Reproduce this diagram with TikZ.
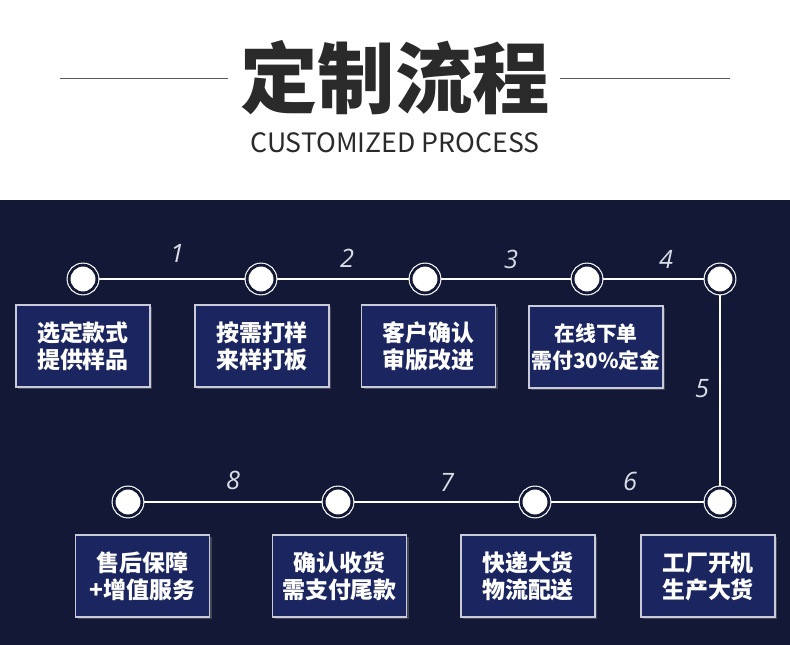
\documentclass[tikz,border=0pt]{standalone}
\usepackage{fontspec}
\newfontfamily\cjk{Noto Sans CJK SC}
\newfontfamily\numfont{Open Sans}
\usepackage{xcolor}
\usepackage{tikz}
\usetikzlibrary{backgrounds, shadows}

\definecolor{navybg}{HTML}{131836}
\definecolor{boxblue}{HTML}{1B2560}
\definecolor{boxline}{HTML}{C9CCD8}
\definecolor{titlegray}{HTML}{2A2A2A}
\definecolor{rulegray}{HTML}{5A5A5A}
\definecolor{numgray}{HTML}{DADCE6}

\tikzset{
    dot/.style={circle, inner sep=0, minimum size=20.85pt, fill=white, draw=white,
        line width=0.85pt, double=navybg, double distance=2.1pt},
    procbox/.style={draw=boxline, line width=0.9pt, fill=boxblue, text=white,
        minimum width=100.5pt, minimum height=61.5pt, inner sep=0, align=center,
        font=\cjk\bfseries\fontsize{17.2}{20.2}\selectfont,
        drop shadow={opacity=0.45, shadow xshift=1.5pt, shadow yshift=-1.5pt}},
    numlabel/.style={text=numgray, font=\numfont\itshape\fontsize{19}{19}\selectfont},
    pathline/.style={white, line width=1.5pt}
}

\begin{document}
\begin{tikzpicture}[x=0.75pt, y=-0.75pt]
        \useasboundingbox (0,0) rectangle (790,645);
        % 标题
        \node[text=titlegray, font=\cjk\bfseries\fontsize{58}{58}\selectfont] (title) at (395,78) {定制流程};
        \node[text=titlegray, font=\cjk\fontsize{20}{20}\selectfont] (subtitle) at (395,143) {CUSTOMIZED PROCESS};
        \draw[rulegray, line width=0.75pt] (60,79) -- (228,79);
        \draw[rulegray, line width=0.75pt] (560,79) -- (730,79);

        % 流程节点
        \node[dot] (d1) at (83,279) {};
        \node[dot] (d2) at (261,279) {};
        \node[dot] (d3) at (425,279) {};
        \node[dot] (d4) at (587,279) {};
        \node[dot] (d5) at (720,279) {};
        \node[dot] (d6) at (720,502) {};
        \node[dot] (d7) at (535,502) {};
        \node[dot] (d8) at (338,502) {};
        \node[dot] (d9) at (128,502) {};

        % 连线 (背景层)
        \begin{scope}[on background layer]
            \fill[navybg] (0,200) rectangle (790,645);
            \draw[pathline] (d1.center) -- (d2.center) -- (d3.center) -- (d4.center) -- (d5.center)
                -- (d6.center) -- (d7.center) -- (d8.center) -- (d9.center);
        \end{scope}

        % 序号
        \node[numlabel] (n1) at (177,253) {1};
        \node[numlabel] (n2) at (347,258) {2};
        \node[numlabel] (n3) at (511,259) {3};
        \node[numlabel] (n4) at (666,259) {4};
        \node[numlabel] (n5) at (702,389) {5};
        \node[numlabel] (n6) at (630,481) {6};
        \node[numlabel] (n7) at (447,482) {7};
        \node[numlabel] (n8) at (233,480) {8};

        % 说明框
        \node[procbox] (b1) at (83,346) {选定款式\\提供样品};
        \node[procbox] (b2) at (262,346) {按需打样\\来样打板};
        \node[procbox] (b3) at (428.5,346) {客户确认\\审版改进};
        \node[procbox, font=\cjk\bfseries\fontsize{15.6}{20.2}\selectfont] (b4) at (596,347) {在线下单\\需付30\%定金};
        \node[procbox] (b5) at (708,576) {工厂开机\\生产大货};
        \node[procbox] (b6) at (528,576) {快递大货\\物流配送};
        \node[procbox] (b7) at (339.5,576) {确认收货\\需支付尾款};
        \node[procbox] (b8) at (142.5,576) {售后保障\\+增值服务};
    \end{tikzpicture}
\end{document}
